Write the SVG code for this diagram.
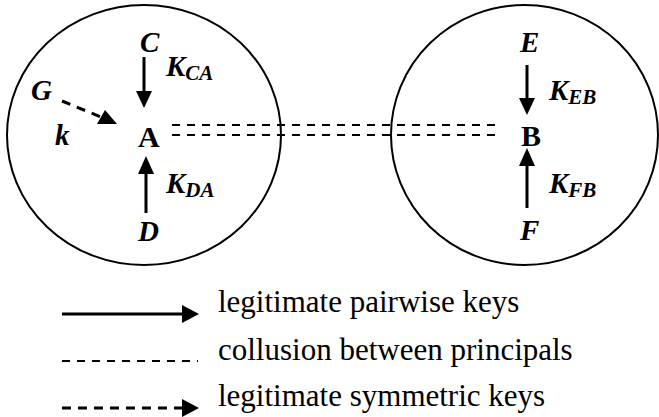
<svg xmlns="http://www.w3.org/2000/svg" width="659" height="417" viewBox="0 0 659 417">
<style>
.lbl{font-family:'Liberation Serif','Times New Roman',Times,serif;font-weight:bold;font-style:italic;font-size:29px;fill:#000}
.sub{font-size:21px}
.node{font-family:'Liberation Serif','Times New Roman',Times,serif;font-weight:bold;font-size:30px;fill:#000}
.leg{font-family:'Liberation Serif','Times New Roman',Times,serif;font-size:31px;fill:#000}
.solid{stroke:#000;stroke-width:3;fill:none}
.dash{stroke:#000;stroke-width:3;stroke-dasharray:9 7;fill:none}
.coll{stroke:#000;stroke-width:2;stroke-dasharray:8 7;fill:none}
.circ{stroke:#000;stroke-width:2;fill:none}
.head{fill:#000}
</style>
<rect width="659" height="417" fill="#fff"/>
<g id="groupA"><ellipse class="circ" cx="144" cy="135" rx="137" ry="130"/></g>
<g id="groupB"><ellipse class="circ" cx="524.5" cy="135" rx="133.5" ry="130"/></g>
<g id="nodeA"><text class="node" x="138" y="147">A</text></g>
<g id="nodeB"><text class="node" x="521" y="146">B</text></g>
<g id="nodeC"><text class="lbl" x="140" y="52">C</text></g>
<g id="nodeD"><text class="lbl" x="138" y="241">D</text></g>
<g id="nodeE"><text class="lbl" x="520" y="52">E</text></g>
<g id="nodeF"><text class="lbl" x="520" y="240">F</text></g>
<g id="nodeG"><text class="lbl" x="31" y="100">G</text></g>
<g id="connectors">
  <line class="solid" x1="144" y1="57" x2="144" y2="92"/>
  <polygon class="head" points="136,91 152,91 144,108"/>
  <line class="solid" x1="146" y1="213" x2="146" y2="173"/>
  <polygon class="head" points="138,174 154,174 146,156"/>
  <line class="solid" x1="527" y1="65" x2="527" y2="99"/>
  <polygon class="head" points="519,98 535,98 527,115"/>
  <line class="solid" x1="527" y1="208" x2="527" y2="166"/>
  <polygon class="head" points="519,166 535,166 527,148"/>
  <line class="dash" x1="62" y1="101" x2="101" y2="117"/>
  <polygon class="head" points="105,110 97,124 117,124"/>
  <line class="coll" x1="172" y1="125" x2="498" y2="125"/>
  <line class="coll" x1="172" y1="135" x2="498" y2="135"/>
</g>
<g id="labels">
  <text class="lbl" x="166" y="76">K<tspan class="sub" dy="4">CA</tspan></text>
  <text class="lbl" x="166" y="193">K<tspan class="sub" dy="4">DA</tspan></text>
  <text class="lbl" x="549" y="100">K<tspan class="sub" dy="4">EB</tspan></text>
  <text class="lbl" x="549" y="193">K<tspan class="sub" dy="4">FB</tspan></text>
  <text class="lbl" x="55" y="145">k</text>
</g>
<g id="legend">
  <line class="solid" x1="62" y1="314" x2="183" y2="314"/>
  <polygon class="head" points="182,305 182,323 199,314"/>
  <text class="leg" x="218" y="312">legitimate pairwise keys</text>
  <line class="coll" x1="62" y1="361" x2="198" y2="361"/>
  <text class="leg" x="218" y="360">collusion between principals</text>
  <line class="dash" x1="62" y1="408" x2="183" y2="408"/>
  <polygon class="head" points="182,399 182,417 199,408"/>
  <text class="leg" x="218" y="406">legitimate symmetric keys</text>
</g>
</svg>
